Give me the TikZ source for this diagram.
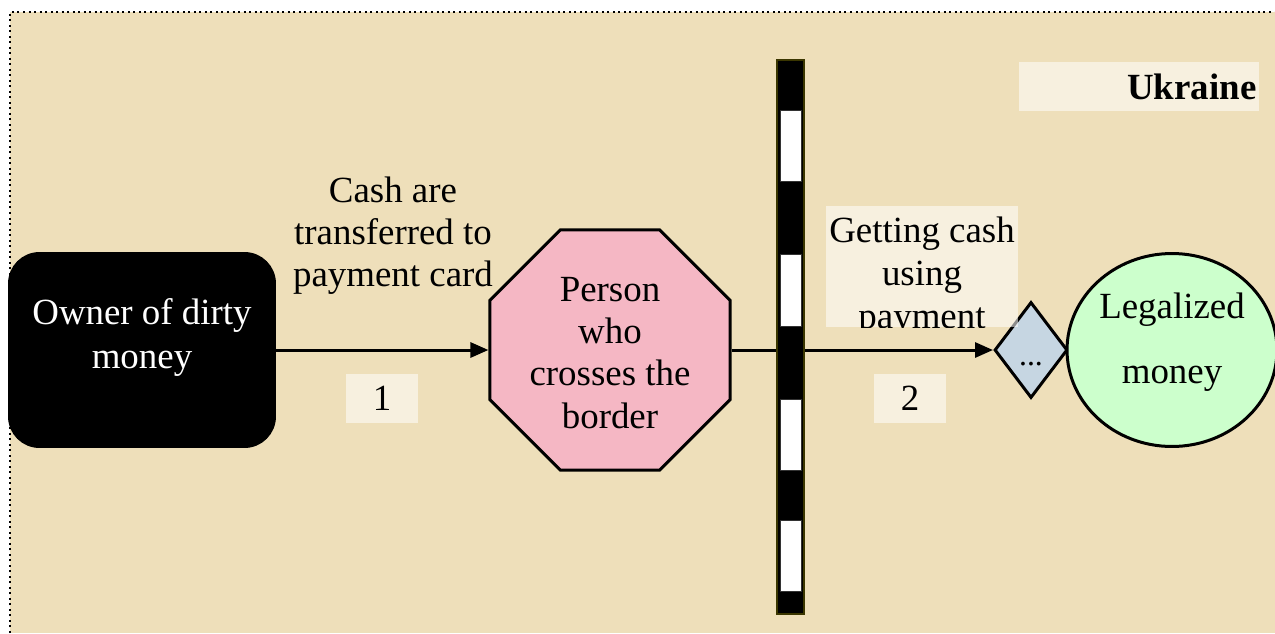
\documentclass[tikz,border=0pt]{standalone}
\usepackage{fontspec}
\setmainfont{Liberation Serif}
\usepackage{tikz}
\usetikzlibrary{shapes.geometric,arrows.meta}

\definecolor{parchment}{RGB}{238,223,186}
\definecolor{stoppink}{RGB}{245,183,196}
\definecolor{diamblue}{RGB}{198,214,226}
\definecolor{mintgreen}{RGB}{204,255,204}
\definecolor{barolive}{RGB}{58,54,0}

\begin{document}
\begin{tikzpicture}[x=0.02cm, y=-0.02cm, font=\fontsize{21}{24}\selectfont]
  \useasboundingbox (0,0) rectangle (1275,633);
  \clip (0,0) rectangle (1275,633);
  \fill[white] (0,0) rectangle (1275,633);
  \fill[parchment] (10,12) rectangle (1275,633);
  \draw[dotted, line width=0.04cm] (10,633) -- (10,12) -- (1275,12);

  \begin{scope}[every node/.style={draw, line width=0.06cm, align=center}]
      \node (owner) at (142,350) [rectangle, rounded corners=0.6cm, fill=black,
            minimum width=5.3cm, minimum height=3.86cm,
            label={[draw=none, text=white, yshift=0.25cm, font=\fontsize{21}{25.5}\selectfont]center:Owner of dirty\\money}] {};

      \node (person) at (610,350) [regular polygon, regular polygon sides=8, fill=stoppink,
            minimum size=5.2cm, inner sep=0pt,
            label={[draw=none, yshift=-0.06cm]center:Person\\who\\crosses the\\border}] {};

      \node (dots) at (1031,350) [diamond, fill=diamblue, minimum width=1.46cm, minimum height=1.92cm,
            inner sep=0pt, font=\fontsize{18}{20}\selectfont, text height=0.6cm, text depth=0cm] {...};

      \node (legal) at (1172,350) [ellipse, fill=mintgreen, minimum width=4.2cm, minimum height=3.86cm,
            label={[draw=none, yshift=0.16cm, font=\fontsize{21}{37}\selectfont]center:Legalized\\money}] {};
  \end{scope}

  \tikzset{tag box/.style={fill=white, fill opacity=0.55, text opacity=1, inner sep=0pt}}

  \node (one) at (382,398) [tag box, minimum width=1.44cm, minimum height=0.98cm] {1};
  \node (two) at (910,398) [tag box, minimum width=1.44cm, minimum height=0.98cm] {2};
  \node (ukraine) at (1139,86.5) [tag box, text width=4.7cm, inner xsep=0.05cm, minimum height=0.98cm,
        align=right, font=\fontsize{21}{24}\selectfont\bfseries] {Ukraine};

  \node (cash) at (393,236) [align=center] {Cash are\\transferred to\\payment card};

  \node (getbox) at (922,266.5) [tag box, minimum width=3.84cm, minimum height=2.42cm] {};
  \begin{scope}
    \clip (getbox.south west) rectangle (getbox.north east);
    \node (getting) at (922,277) [align=center, font=\fontsize{21}{24.5}\selectfont] {Getting cash\\using\\payment};
  \end{scope}

  \tikzset{thick arc/.style={->, black, line width=0.06cm, >={Triangle[length=0.36cm, width=0.3cm]}}}

  \draw[thick arc] (owner) -- (person);
  \draw[thick arc] (person) -- (dots);

  % border barrier
  \draw[barolive, line width=0.05cm, fill=black] (777,60) rectangle (804,614);
  \draw[gray!40!black, line width=0.02cm, fill=white] (780,110) rectangle (801,181);
  \draw[gray!40!black, line width=0.02cm, fill=white] (780,254) rectangle (801,326);
  \draw[gray!40!black, line width=0.02cm, fill=white] (780,399) rectangle (801,470);
  \draw[gray!40!black, line width=0.02cm, fill=white] (780,520) rectangle (801,591);

\end{tikzpicture}
\end{document}
